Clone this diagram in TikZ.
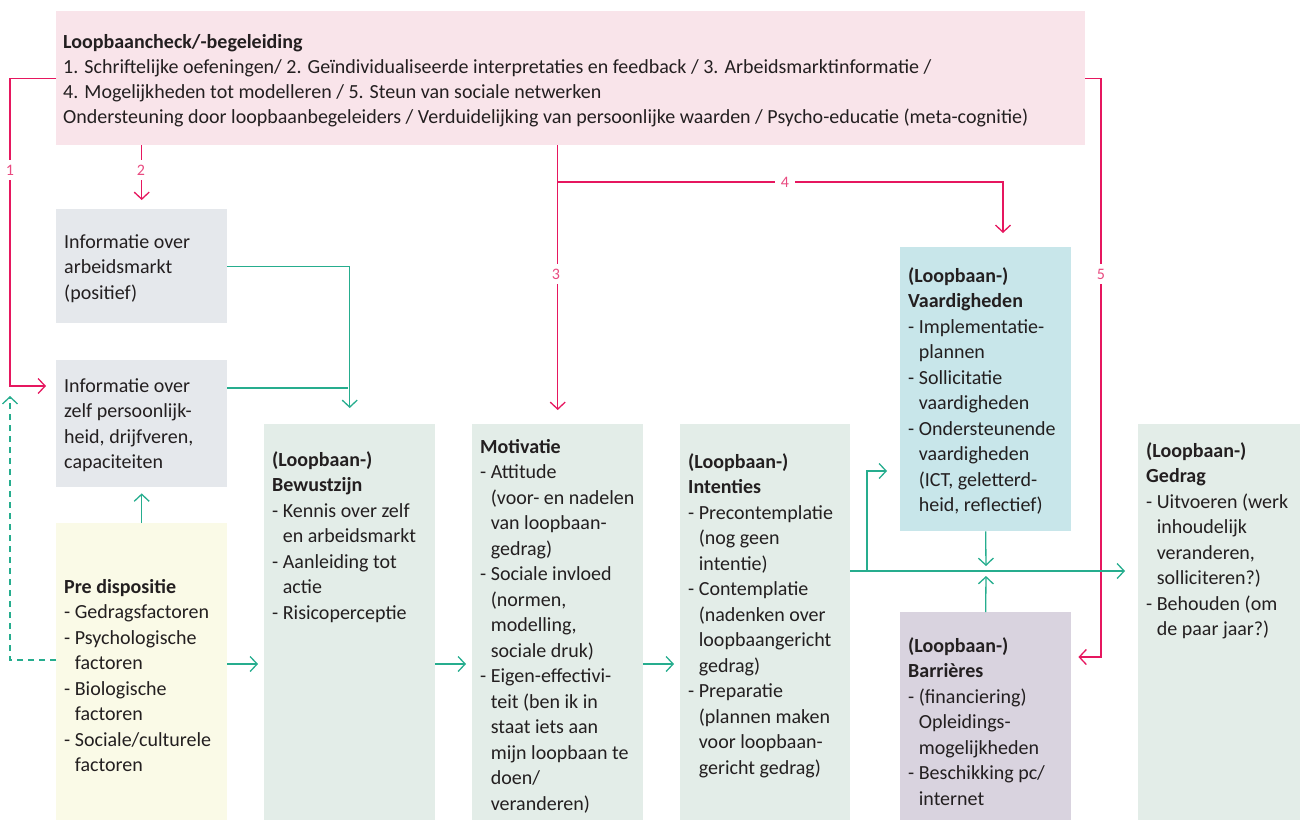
\documentclass[tikz,border=0pt]{standalone}
\usepackage{fontspec}
\setmainfont{Carlito}
\usetikzlibrary{arrows.meta}
\definecolor{pinkfill}{HTML}{F9E4EA}
\definecolor{pinkline}{HTML}{E6175F}
\definecolor{pinktext}{HTML}{E94A80}
\definecolor{grayfill}{HTML}{E5E8EC}
\definecolor{yelfill}{HTML}{FAFAE7}
\definecolor{grnfill}{HTML}{E3EDE8}
\definecolor{cyanfill}{HTML}{C8E6EA}
\definecolor{lavfill}{HTML}{D9D3DF}
\definecolor{grnline}{HTML}{26AD8E}
\definecolor{txt}{HTML}{231F20}
\newdimen\tlskip \tlskip=25.5pt
\newcommand\tl[1]{\vtop{\baselineskip=\tlskip\lineskip=0pt\lineskiplimit=-30pt\halign{##\hfil\cr#1\crcr}}}
\newcommand\ind{\hphantom{-\ }}
\tikzset{
  boxnode/.style={draw=none, inner sep=0pt, anchor=north west},
  txtnode/.style={inner sep=0pt, anchor=base west, text=txt, font=\fontsize{20}{25.5}\selectfont},
  barb/.style={-{Straight Barb[length=7pt,width=15pt,line join=miter]}},
  pk/.style={draw=pinkline, line width=1.3pt},
  gn/.style={draw=grnline, line width=1.3pt},
  numlab/.style={fill=white, text=pinktext, inner xsep=6pt, inner ysep=5pt, font=\fontsize{16}{16}\selectfont},
}
\begin{document}
\begin{tikzpicture}[x=1pt,y=-1pt]
\useasboundingbox (0,0) rectangle (1300,820);
% boxes
\node[boxnode, fill=pinkfill, minimum width=1029pt, minimum height=134pt] (top) at (56,11) {};
\node[boxnode, fill=grayfill, minimum width=171pt, minimum height=114pt] (am) at (56,209) {};
\node[boxnode, fill=grayfill, minimum width=171pt, minimum height=127pt] (iz) at (56,360) {};
\node[boxnode, fill=yelfill, minimum width=171pt, minimum height=297pt] (pd) at (56,523) {};
\node[boxnode, fill=grnfill, minimum width=171pt, minimum height=396pt] (bw) at (264,424) {};
\node[boxnode, fill=grnfill, minimum width=171pt, minimum height=396pt] (mo) at (472,424) {};
\node[boxnode, fill=grnfill, minimum width=170pt, minimum height=396pt] (in) at (680,424) {};
\node[boxnode, fill=cyanfill, minimum width=171pt, minimum height=284pt] (va) at (900,247) {};
\node[boxnode, fill=lavfill, minimum width=171pt, minimum height=208pt] (ba) at (900,612) {};
\node[boxnode, fill=grnfill, minimum width=162pt, minimum height=396pt] (ge) at (1138,424) {};
% texts
\node[txtnode] (ttop) at (63,48) {\tlskip=25pt\tl{{\bfseries Loopbaancheck/-begeleiding}\cr
1. Schriftelijke oefeningen/ 2. Geïndividualiseerde interpretaties en feedback / 3. Arbeidsmarktinformatie /\cr
4. Mogelijkheden tot modelleren / 5. Steun van sociale netwerken\cr
Ondersteuning door loopbaanbegeleiders / Verduidelijking van persoonlijke waarden / Psycho-educatie (meta-cognitie)}};
\node[txtnode] (tam) at (64,248) {\tl{Informatie over\cr arbeidsmarkt\cr (positief)}};
\node[txtnode] (tiz) at (64,392) {\tl{Informatie over\cr zelf persoonlijk-\cr heid, drijfveren,\cr capaciteiten}};
\node[txtnode] (tpd) at (64,593) {\tl{{\bfseries Pre dispositie}\cr - Gedragsfactoren\cr - Psychologische\cr \ind factoren\cr - Biologische\cr \ind factoren\cr - Sociale/culturele\cr \ind factoren}};
\node[txtnode] (tbw) at (272,466) {\tl{{\bfseries (Loopbaan-)}\cr {\bfseries Bewustzijn}\cr - Kennis over zelf\cr \ind en arbeidsmarkt\cr - Aanleiding tot\cr \ind actie\cr - Risicoperceptie}};
\node[txtnode] (tmo) at (480,453) {\tl{{\bfseries Motivatie}\cr - Attitude\cr \ind (voor- en nadelen\cr \ind van loopbaan-\cr \ind gedrag)\cr - Sociale invloed\cr \ind (normen,\cr \ind modelling,\cr \ind sociale druk)\cr - Eigen-effectivi-\cr \ind teit (ben ik in\cr \ind staat iets aan\cr \ind mijn loopbaan te\cr \ind doen/\cr \ind veranderen)}};
\node[txtnode] (tin) at (688,468) {\tl{{\bfseries (Loopbaan-)}\cr {\bfseries Intenties}\cr - Precontemplatie\cr \ind (nog geen\cr \ind intentie)\cr - Contemplatie\cr \ind (nadenken over\cr \ind loopbaangericht\cr \ind gedrag)\cr - Preparatie\cr \ind (plannen maken\cr \ind voor loopbaan-\cr \ind gericht gedrag)}};
\node[txtnode] (tva) at (908,282) {\tl{{\bfseries (Loopbaan-)}\cr {\bfseries Vaardigheden}\cr - Implementatie-\cr \ind plannen\cr - Sollicitatie\cr \ind vaardigheden\cr - Ondersteunende\cr \ind vaardigheden\cr \ind (ICT, geletterd-\cr \ind heid, reflectief)}};
\node[txtnode] (tba) at (908,652) {\tl{{\bfseries (Loopbaan-)}\cr {\bfseries Barrières}\cr - (financiering)\cr \ind Opleidings-\cr \ind mogelijkheden\cr - Beschikking pc/\cr \ind internet}};
\node[txtnode] (tge) at (1146,457) {\tl{{\bfseries (Loopbaan-)}\cr {\bfseries Gedrag}\cr - Uitvoeren (werk\cr \ind inhoudelijk\cr \ind veranderen,\cr \ind solliciteren?)\cr - Behouden (om\cr \ind de paar jaar?)}};
% helper coordinates
\coordinate (row) at (0,664);
\coordinate (jn) at (986,571);
\coordinate (c1) at (10,0);
\coordinate (c5) at (1101,0);
\coordinate (c4) at (1003,0);
\coordinate (cg) at (348,0);
\coordinate (cv) at (867,0);
\coordinate (dtip) at (10,396);
% pink connectors
\draw[pk,barb,shorten >=10pt] (top.west) -| (c1 |- 0,386) -- ([yshift=-26pt]iz.north west);
\draw[pk,barb,shorten >=9pt] (top.south -| am.north) -- (am.north);
\draw[pk,barb,shorten >=14pt] (top.south -| mo.north) -- (mo.north);
\draw[pk,barb,shorten >=14pt] (mo.north |- 0,182) -| (c4 |- va.north);
\draw[pk,barb,shorten >=7pt] (top.east) -| (c5 |- 0,657) -- (ba.east |- 0,657);
\node[numlab] (n1) at (10,170) {1};
\node[numlab] (n2) at (141,170) {2};
\node[numlab] (n3) at (556,274) {3};
\node[numlab] (n4) at (785,182) {4};
\node[numlab] (n5) at (1101,274) {5};
% green connectors
\draw[gn,barb,shorten >=16pt] (am.east) -| (bw.north);
\draw[gn] ([yshift=-28pt]iz.north east) -- ([yshift=-28pt]iz.north east -| cg);
\draw[gn,barb,shorten >=6pt] (pd.north) -- (iz.south);
\draw[gn,barb,dash pattern=on 6pt off 5pt] (pd.west |- 0,660) -| (dtip);
\draw[gn,barb,shorten >=6pt] (pd.east |- row) -- (bw.west |- row);
\draw[gn,barb,shorten >=6pt] (bw.east |- row) -- (mo.west |- row);
\draw[gn,barb,shorten >=6pt] (mo.east |- row) -- (in.west |- row);
\draw[gn,barb,shorten >=13pt] (in.east |- jn) -- (ge.west |- jn);
\draw[gn,barb,shorten >=13pt] (cv |- jn) -- (cv |- 0,471) -- (va.west |- 0,471);
\draw[gn,barb,shorten >=5pt] (va.south) -- (jn);
\draw[gn,barb,shorten >=5pt] (ba.north) -- (jn);
\end{tikzpicture}
\end{document}
